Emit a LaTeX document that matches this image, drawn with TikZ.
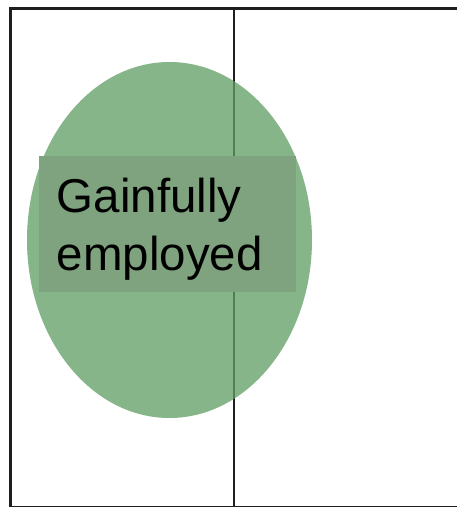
\documentclass[tikz,border=0pt]{standalone}
\usepackage{fontspec}
\setmainfont{Liberation Sans}
\definecolor{ellgreen}{RGB}{96,158,101}
\definecolor{boxgreen}{RGB}{127,163,126}
\definecolor{framecol}{RGB}{30,30,32}
\tikzset{
  frameline/.style={draw=framecol, line width=2.6pt},
  blob/.style={ellipse, fill=ellgreen, fill opacity=0.76, draw=none, inner sep=0pt},
  labelbox/.style={rectangle, fill=boxgreen, draw=none, inner sep=0pt},
  labeltext/.style={font=\fontsize{47.5}{58}\selectfont, align=left, inner sep=0pt, text=black}
}
\usetikzlibrary{shapes.geometric}
\begin{document}
\begin{tikzpicture}[x=1pt,y=-1pt]
\useasboundingbox (0,0) rectangle (457,507);
\fill[white] (0,0) rectangle (457,507);
\coordinate (tl) at (10.5,8.5);
\coordinate (tr) at (470,8.5);
\coordinate (bl) at (10.5,507);
\coordinate (br) at (470,507);
\coordinate (mt) at (234,8.5);
\coordinate (mb) at (234,507);
\draw[frameline] (tr) -- (tl) -- (bl) -- (br);
\draw[frameline] (mt) -- (mb);
\node[blob, minimum width=285pt, minimum height=356pt] (ell) at (169.5,240) {};
\node[labelbox, minimum width=257pt, minimum height=136pt] (box) at (167.5,224) {};
\node[labeltext, anchor=base west] (txt) at (56.5,270) {Gainfully\\employed};
\end{tikzpicture}
\end{document}
